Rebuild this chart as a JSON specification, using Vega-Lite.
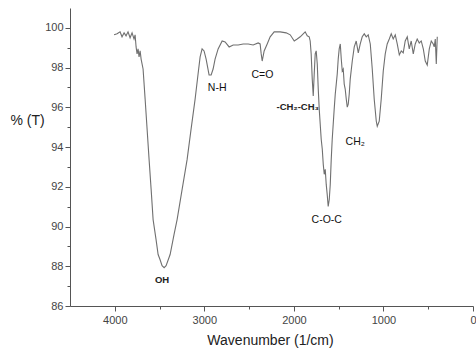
{
  "$schema": "https://vega.github.io/schema/vega-lite/v6.json",
  "width": 403,
  "height": 298,
  "autosize": "none",
  "padding": {"left": 70, "top": 8, "right": 3, "bottom": 43},
  "config": {
    "view": {"stroke": null},
    "font": "Liberation Sans",
    "axis": {"grid": false, "domainColor": "#555", "tickColor": "#555", "labelColor": "#444", "labelFont": "Liberation Sans", "titleFont": "Liberation Sans", "titleFontWeight": "normal", "titleColor": "#222"}
  },
  "data": {"values": [
    {"wn": 4008, "t": 99.65}, {"wn": 3974, "t": 99.7}, {"wn": 3941, "t": 99.8}, {"wn": 3919, "t": 99.55},
    {"wn": 3896, "t": 99.75}, {"wn": 3874, "t": 99.6}, {"wn": 3852, "t": 99.8}, {"wn": 3829, "t": 99.5},
    {"wn": 3807, "t": 99.75}, {"wn": 3785, "t": 99.44}, {"wn": 3773, "t": 99.65}, {"wn": 3762, "t": 99.04},
    {"wn": 3751, "t": 98.69}, {"wn": 3740, "t": 98.94}, {"wn": 3729, "t": 98.54}, {"wn": 3717, "t": 98.84},
    {"wn": 3706, "t": 98.43}, {"wn": 3684, "t": 97.93}, {"wn": 3661, "t": 96.41}, {"wn": 3639, "t": 94.9},
    {"wn": 3617, "t": 93.38}, {"wn": 3594, "t": 91.87}, {"wn": 3572, "t": 90.35}, {"wn": 3539, "t": 89.34},
    {"wn": 3516, "t": 88.59}, {"wn": 3494, "t": 88.33}, {"wn": 3472, "t": 88.03}, {"wn": 3449, "t": 87.93},
    {"wn": 3427, "t": 88.03}, {"wn": 3382, "t": 88.59}, {"wn": 3338, "t": 89.6}, {"wn": 3304, "t": 90.35},
    {"wn": 3248, "t": 91.87}, {"wn": 3192, "t": 93.38}, {"wn": 3148, "t": 94.9}, {"wn": 3103, "t": 96.41},
    {"wn": 3070, "t": 97.68}, {"wn": 3047, "t": 98.54}, {"wn": 3025, "t": 98.94}, {"wn": 3003, "t": 98.84},
    {"wn": 2980, "t": 98.43}, {"wn": 2947, "t": 97.63}, {"wn": 2924, "t": 97.63}, {"wn": 2902, "t": 97.93},
    {"wn": 2880, "t": 98.43}, {"wn": 2846, "t": 98.94}, {"wn": 2801, "t": 99.34}, {"wn": 2768, "t": 99.29},
    {"wn": 2723, "t": 99.04}, {"wn": 2678, "t": 99.14}, {"wn": 2622, "t": 99.14}, {"wn": 2566, "t": 99.19},
    {"wn": 2510, "t": 99.19}, {"wn": 2455, "t": 99.14}, {"wn": 2399, "t": 99.24}, {"wn": 2377, "t": 99.19},
    {"wn": 2365, "t": 98.69}, {"wn": 2354, "t": 98.33}, {"wn": 2332, "t": 98.84}, {"wn": 2298, "t": 99.19},
    {"wn": 2265, "t": 99.55}, {"wn": 2220, "t": 99.8}, {"wn": 2153, "t": 99.8}, {"wn": 2086, "t": 99.75},
    {"wn": 2041, "t": 99.65}, {"wn": 1996, "t": 99.34}, {"wn": 1963, "t": 99.44}, {"wn": 1929, "t": 99.55},
    {"wn": 1896, "t": 99.7}, {"wn": 1874, "t": 99.8}, {"wn": 1851, "t": 99.6}, {"wn": 1829, "t": 99.55},
    {"wn": 1818, "t": 99.34}, {"wn": 1807, "t": 98.69}, {"wn": 1795, "t": 97.42}, {"wn": 1784, "t": 96.57},
    {"wn": 1773, "t": 97.68}, {"wn": 1762, "t": 98.69}, {"wn": 1751, "t": 98.84}, {"wn": 1739, "t": 98.18},
    {"wn": 1728, "t": 96.92}, {"wn": 1717, "t": 95.91}, {"wn": 1706, "t": 95.15}, {"wn": 1695, "t": 94.39},
    {"wn": 1683, "t": 93.89}, {"wn": 1672, "t": 93.13}, {"wn": 1661, "t": 92.63}, {"wn": 1650, "t": 92.88},
    {"wn": 1639, "t": 92.12}, {"wn": 1628, "t": 91.62}, {"wn": 1617, "t": 91.01}, {"wn": 1605, "t": 91.36},
    {"wn": 1594, "t": 92.12}, {"wn": 1583, "t": 93.38}, {"wn": 1572, "t": 94.39}, {"wn": 1561, "t": 95.15},
    {"wn": 1550, "t": 95.91}, {"wn": 1538, "t": 96.67}, {"wn": 1527, "t": 97.17}, {"wn": 1516, "t": 97.68},
    {"wn": 1505, "t": 98.43}, {"wn": 1494, "t": 98.94}, {"wn": 1482, "t": 99.19}, {"wn": 1471, "t": 98.43},
    {"wn": 1460, "t": 97.83}, {"wn": 1449, "t": 97.93}, {"wn": 1438, "t": 97.17}, {"wn": 1427, "t": 96.92},
    {"wn": 1415, "t": 96.41}, {"wn": 1404, "t": 96.01}, {"wn": 1393, "t": 96.16}, {"wn": 1382, "t": 96.67},
    {"wn": 1371, "t": 97.42}, {"wn": 1348, "t": 98.33}, {"wn": 1326, "t": 99.04}, {"wn": 1304, "t": 99.34},
    {"wn": 1281, "t": 98.74}, {"wn": 1259, "t": 99.19}, {"wn": 1237, "t": 99.55}, {"wn": 1214, "t": 99.7},
    {"wn": 1192, "t": 99.55}, {"wn": 1170, "t": 99.65}, {"wn": 1147, "t": 99.19}, {"wn": 1125, "t": 97.93},
    {"wn": 1103, "t": 96.41}, {"wn": 1080, "t": 95.3}, {"wn": 1069, "t": 95.05}, {"wn": 1047, "t": 95.3},
    {"wn": 1025, "t": 96.41}, {"wn": 1002, "t": 97.83}, {"wn": 980, "t": 98.69}, {"wn": 958, "t": 99.19},
    {"wn": 935, "t": 99.44}, {"wn": 913, "t": 99.7}, {"wn": 891, "t": 99.44}, {"wn": 868, "t": 99.65},
    {"wn": 846, "t": 99.19}, {"wn": 823, "t": 98.64}, {"wn": 801, "t": 98.84}, {"wn": 779, "t": 98.74},
    {"wn": 757, "t": 99.34}, {"wn": 734, "t": 99.55}, {"wn": 712, "t": 98.94}, {"wn": 690, "t": 99.34},
    {"wn": 667, "t": 98.69}, {"wn": 645, "t": 99.19}, {"wn": 623, "t": 99.44}, {"wn": 600, "t": 99.24},
    {"wn": 578, "t": 99.34}, {"wn": 555, "t": 98.94}, {"wn": 533, "t": 98.33}, {"wn": 511, "t": 98.13},
    {"wn": 488, "t": 98.94}, {"wn": 466, "t": 99.34}, {"wn": 444, "t": 99.19}, {"wn": 433, "t": 99.04},
    {"wn": 421, "t": 99.44}, {"wn": 410, "t": 98.18}, {"wn": 399, "t": 99.55}
  ]},
  "encoding": {
    "x": {"field": "wn", "type": "quantitative",
      "scale": {"domain": [0, 4500], "reverse": true, "nice": false, "zero": false},
      "axis": {"title": "Wavenumber (1/cm)", "titleFontSize": 14, "titleY": 34, "titleX": 200, "titleBaseline": "middle",
        "values": [0, 500, 1000, 1500, 2000, 2500, 3000, 3500, 4000],
        "labelExpr": "datum.value % 1000 === 0 ? datum.label : ''",
        "format": "d", "labelFontSize": 11, "labelPadding": 3, "labelFlush": false,
        "tickSize": {"condition": {"test": "datum.value % 1000 === 0", "value": 5}, "value": 3}}},
    "y": {"field": "t", "type": "quantitative",
      "scale": {"domain": [86, 101], "nice": false, "zero": false},
      "axis": {"title": "% (T)", "titleAngle": 0, "titleFontSize": 14, "titleX": -43, "titleY": 112,
        "titleAlign": "center", "titleBaseline": "middle",
        "values": [86, 87, 88, 89, 90, 91, 92, 93, 94, 95, 96, 97, 98, 99, 100],
        "labelExpr": "datum.value % 2 === 0 ? datum.label : ''",
        "labelFontSize": 11, "labelPadding": 2, "labelFlush": false,
        "tickSize": {"condition": {"test": "datum.value % 2 === 0", "value": 5}, "value": 3}}}
  },
  "layer": [
    {"mark": {"type": "line", "color": "#707070", "strokeWidth": 1.1, "interpolate": "linear"}},
    {"data": {"values": [
      {"wn": 2857, "t": 96.97, "label": "N-H"},
      {"wn": 2351, "t": 97.63, "label": "C=O"},
      {"wn": 1315, "t": 94.24, "label": "CH₂"},
      {"wn": 1633, "t": 90.35, "label": "C-O-C"}
    ]},
     "mark": {"type": "text", "fontSize": 10.5, "color": "#111", "align": "center", "baseline": "middle"},
     "encoding": {"text": {"field": "label"}}},
    {"data": {"values": [
      {"wn": 3472, "t": 87.32, "label": "OH"},
      {"wn": 1957, "t": 96.01, "label": "-CH₂-CH₃"}
    ]},
     "mark": {"type": "text", "fontSize": 9.5, "fontWeight": "bold", "color": "#222", "align": "center", "baseline": "middle"},
     "encoding": {"text": {"field": "label"}}}
  ]
}
